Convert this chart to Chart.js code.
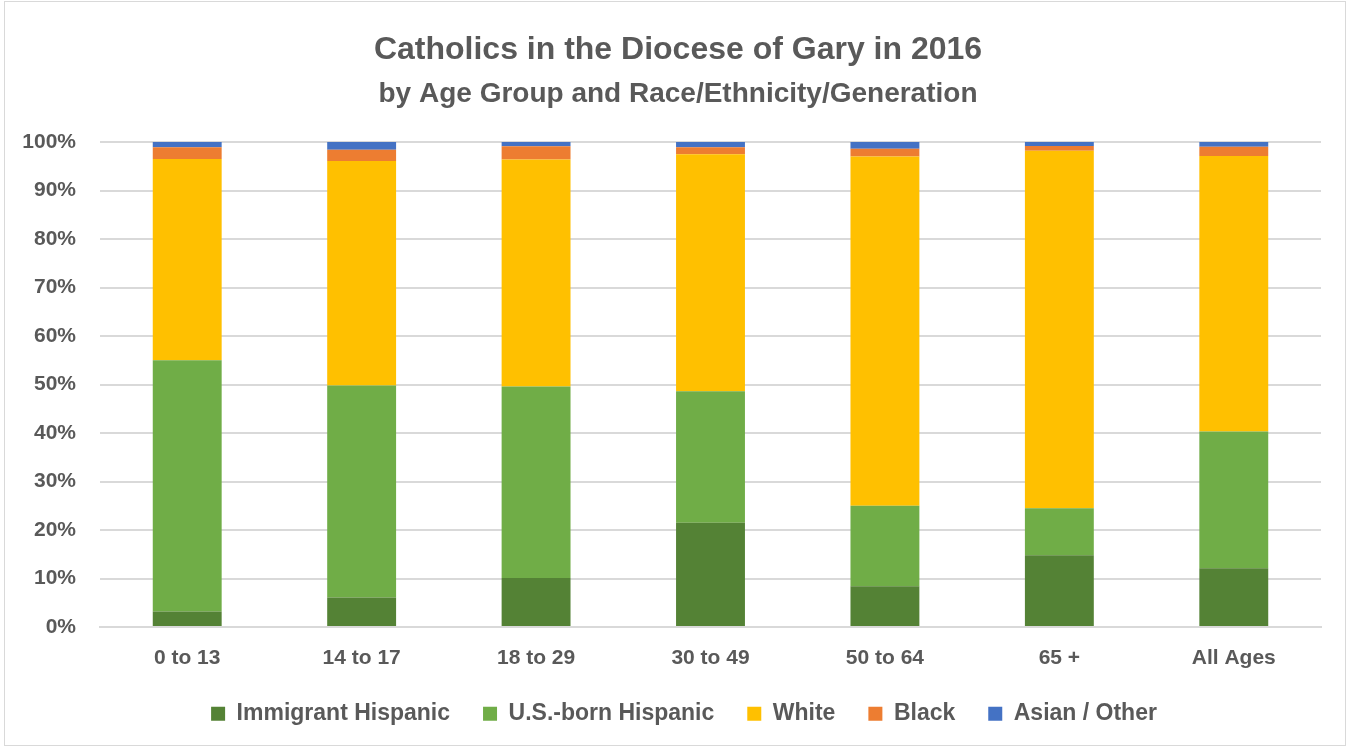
<!DOCTYPE html>
<html>
<head>
<meta charset="utf-8">
<script src="https://cdn.jsdelivr.net/npm/chart.js@4"></script>
<style>
  html, body { margin: 0; padding: 0; background: #fff; }
  #frame { position: absolute; left: 4px; top: 1px; width: 1342px; height: 745px; border: 1px solid #d9d9d9; box-sizing: border-box; }
  #wrap { position: absolute; left: 0; top: 0; width: 1351px; height: 749px; }
</style>
</head>
<body>
<div id="frame"></div>
<div id="wrap"><canvas id="c" width="1351" height="749"></canvas></div>
<script>
const categories = ["0 to 13", "14 to 17", "18 to 29", "30 to 49", "50 to 64", "65 +", "All Ages"];
const immigrantHispanic = [3.2, 6.1, 10.1, 21.5, 8.4, 14.8, 12.1];
const usBornHispanic    = [51.8, 43.7, 39.5, 27.1, 16.6, 9.7, 28.2];
const white             = [41.5, 46.3, 46.8, 48.9, 72.0, 73.7, 56.8];
const black             = [2.4, 2.3, 2.7, 1.4, 1.6, 1.0, 1.9];
const asianOther        = [1.1, 1.6, 0.9, 1.1, 1.4, 0.8, 1.0];
const yTicks = [0, 10, 20, 30, 40, 50, 60, 70, 80, 90, 100];

const txt = '#595959';
const ff = '"Liberation Sans", Arial, sans-serif';

function ds(label, data, color) {
  return { label, data, backgroundColor: color, borderWidth: 0, barPercentage: 0.79, categoryPercentage: 0.5 };
}

// shift title/subtitle/legend boxes horizontally (the reference centres them right of the canvas middle)
const shiftBoxes = {
  id: 'shiftBoxes',
  afterLayout(chart) {
    chart.boxes.forEach(b => {
      if (b.axis) return;
      const dx = b.legendItems ? 23.5 : 17.5;
      b.left += dx;
      b.right += dx;
    });
  }
};

new Chart(document.getElementById('c'), {
  type: 'bar',
  plugins: [shiftBoxes],
  data: {
    labels: categories,
    datasets: [
      ds('Immigrant Hispanic', immigrantHispanic, '#548235'),
      ds('U.S.-born Hispanic', usBornHispanic, '#70AD47'),
      ds('White', white, '#FFC000'),
      ds('Black', black, '#ED7D31'),
      ds('Asian / Other', asianOther, '#4472C4')
    ]
  },
  options: {
    responsive: false,
    animation: false,
    layout: { padding: { left: 0, right: 30, top: 0, bottom: 13.8 } },
    plugins: {
      title: {
        display: true,
        text: 'Catholics in the Diocese of Gary in 2016',
        color: txt,
        font: { family: ff, size: 32, weight: 'bold', lineHeight: 1.2 },
        padding: { top: 31.3, bottom: 7.5 }
      },
      subtitle: {
        display: true,
        text: 'by Age Group and Race/Ethnicity/Generation',
        color: txt,
        font: { family: ff, size: 28, weight: 'bold', lineHeight: 1.2 },
        padding: { top: 0, bottom: 31.2 }
      },
      legend: {
        position: 'bottom',
        labels: {
          color: txt,
          font: { family: ff, size: 23, weight: 'bold' },
          boxWidth: 14,
          boxHeight: 14,
          padding: 33
        }
      },
      tooltip: { enabled: false }
    },
    scales: {
      x: {
        stacked: true,
        afterFit: (s) => { s.height = 42.2; },
        grid: { display: false, drawTicks: false },
        border: { display: true, color: '#d9d9d9', width: 2 },
        ticks: { color: txt, font: { family: ff, size: 21, weight: 'bold' }, padding: 18.4 }
      },
      y: {
        stacked: true,
        min: 0,
        max: 100,
        afterFit: (s) => { s.width = 100; },
        afterBuildTicks: (s) => { s.ticks = yTicks.map(v => ({ value: v })); },
        grid: { color: '#d9d9d9', lineWidth: 2, drawTicks: false },
        border: { display: false },
        ticks: {
          color: txt,
          font: { family: ff, size: 21, weight: 'bold' },
          padding: 24,
          callback: (v) => v + '%'
        }
      }
    }
  }
});
</script>
</body>
</html>
